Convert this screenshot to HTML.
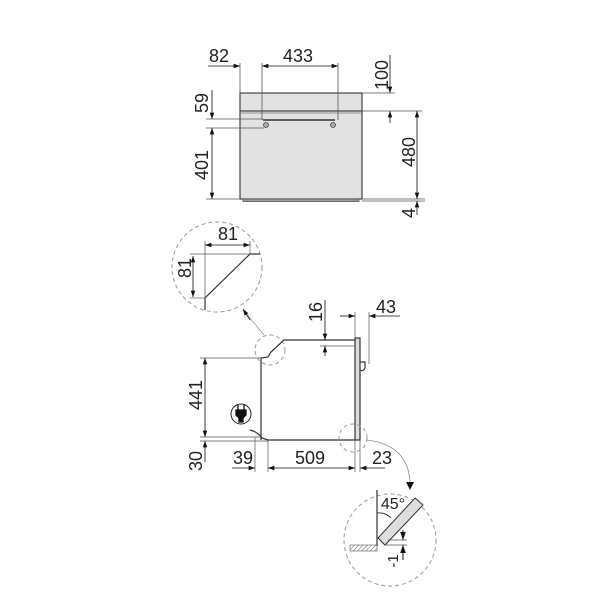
<!DOCTYPE html>
<html><head><style>body{margin:0;background:#fff}svg{display:block}text{font-family:"Liberation Sans",sans-serif;fill:#222}</style></head>
<body>
<svg width="600" height="600" viewBox="0 0 600 600" xmlns="http://www.w3.org/2000/svg">
<defs>
<marker id="a" viewBox="0 0 10 10" refX="10" refY="5" markerWidth="8" markerHeight="8" orient="auto-start-reverse"><path d="M0,1.5L10,5L0,8.5z" fill="#111"/></marker>
<pattern id="h" width="3" height="3" patternUnits="userSpaceOnUse" patternTransform="rotate(45)"><line x1="0" y1="0" x2="0" y2="3" stroke="#555" stroke-width="1"/></pattern>
</defs>
<g stroke="#555" stroke-width="0.8" fill="none">
<rect x="240" y="93" width="122" height="106" fill="#e2e2e2" stroke="#444" stroke-width="1.2"/>
<rect x="243" y="199" width="116" height="2.5" fill="#999" stroke="#555"/>
<line x1="240" y1="111" x2="362" y2="111" stroke="#444" stroke-width="1.2"/>
<line x1="240" y1="113" x2="362" y2="113" stroke="#777"/>
<line x1="263" y1="120" x2="335" y2="120" stroke="#333" stroke-width="1.5"/>
<circle cx="266" cy="125" r="2.5" fill="#aaa" stroke="#444"/>
<circle cx="333" cy="125" r="2.5" fill="#aaa" stroke="#444"/>
<line x1="240" y1="63" x2="240" y2="93"/><line x1="262" y1="63" x2="262" y2="120"/><line x1="338" y1="63" x2="338" y2="120"/>
<line x1="362" y1="93" x2="395" y2="93"/><line x1="362" y1="111" x2="422" y2="111"/><line x1="362" y1="199" x2="425" y2="199"/><line x1="362" y1="201" x2="425" y2="201"/>
<line x1="206" y1="119" x2="263" y2="119"/><line x1="206" y1="128" x2="264" y2="128"/><line x1="206" y1="199" x2="240" y2="199"/>
</g>
<g stroke="#111" stroke-width="0.8" fill="none">
<line x1="208" y1="66" x2="240" y2="66" marker-end="url(#a)"/>
<line x1="262" y1="66" x2="338" y2="66" marker-start="url(#a)" marker-end="url(#a)"/>
<line x1="390" y1="55" x2="390" y2="93" marker-end="url(#a)"/>
<line x1="390" y1="123" x2="390" y2="111" marker-end="url(#a)"/>
<line x1="417" y1="111" x2="417" y2="199" marker-start="url(#a)" marker-end="url(#a)"/>
<line x1="417" y1="215" x2="417" y2="201" marker-end="url(#a)"/>
<line x1="212" y1="90" x2="212" y2="119" marker-end="url(#a)"/>
<line x1="212" y1="128" x2="212" y2="199" marker-start="url(#a)" marker-end="url(#a)"/>
</g>
<g font-size="18" text-anchor="middle">
<text x="219" y="62">82</text><text x="298" y="62">433</text>
<text transform="translate(388,75) rotate(-90)">100</text>
<text transform="translate(415,152) rotate(-90)">480</text>
<text transform="translate(415,213) rotate(-90)">4</text>
<text transform="translate(208,103) rotate(-90)">59</text>
<text transform="translate(208,165) rotate(-90)">401</text>
</g>
<circle cx="217" cy="267" r="45" fill="none" stroke="#999" stroke-dasharray="4,3"/>
<g stroke="#333" stroke-width="1.2" fill="none">
<polyline points="205,310 205,298 250,254 260,254"/>
</g>
<g stroke="#555" stroke-width="0.7" fill="none"><line x1="205" y1="241" x2="205" y2="298"/><line x1="190" y1="254" x2="250" y2="254"/><line x1="250" y1="241" x2="250" y2="254"/><line x1="190" y1="298" x2="205" y2="298"/>
<line x1="264" y1="335" x2="244" y2="311" stroke="#888"/></g>
<g stroke="#111" stroke-width="0.8" fill="none">
<line x1="205" y1="245" x2="250" y2="245" marker-start="url(#a)" marker-end="url(#a)"/>
<line x1="193" y1="256" x2="193" y2="297" marker-start="url(#a)" marker-end="url(#a)"/>
<line x1="250" y1="320" x2="243" y2="309" marker-end="url(#a)"/>
</g>
<g font-size="18" text-anchor="middle">
<text x="228" y="240">81</text>
<text transform="translate(191,268) rotate(-90)">81</text>
</g>
<circle cx="270" cy="350" r="15" fill="none" stroke="#999" stroke-dasharray="4,3"/>
<g stroke="#333" stroke-width="1.2" fill="none">
<polyline points="355,340 284,340 271,352 268,357 261,358 261,440"/>
<line x1="268" y1="440" x2="355" y2="440"/>
<rect x="355" y="338" width="5" height="102" fill="#ddd"/>
<path d="M360,362 L365,362 L365,368 Q363,372 360,370"/>
<path d="M250,430 Q258,432 262,438 L268,440"/>
</g>
<circle cx="241" cy="414" r="10" fill="none" stroke="#222" stroke-width="1"/>
<path d="M236,410h10v5l-3,3v4h-4v-4l-3,-3z M238,405v5 M244,405v5" fill="#111" stroke="#111" stroke-width="1.3"/>
<g stroke="#555" stroke-width="0.7" fill="none">
<line x1="200" y1="358" x2="261" y2="358"/><line x1="200" y1="437" x2="261" y2="437"/><line x1="200" y1="441" x2="268" y2="441"/>
<line x1="255" y1="437" x2="255" y2="472"/><line x1="268" y1="440" x2="268" y2="472"/><line x1="355" y1="440" x2="355" y2="472"/><line x1="360" y1="440" x2="360" y2="472"/>
<line x1="355" y1="312" x2="355" y2="338"/><line x1="369" y1="312" x2="369" y2="364"/>
<line x1="320" y1="346" x2="355" y2="346"/>
</g>
<g stroke="#111" stroke-width="0.8" fill="none">
<line x1="205" y1="358" x2="205" y2="437" marker-start="url(#a)" marker-end="url(#a)"/>
<line x1="205" y1="462" x2="205" y2="441" marker-end="url(#a)"/>
<line x1="232" y1="468" x2="255" y2="468" marker-end="url(#a)"/>
<line x1="268" y1="468" x2="355" y2="468" marker-start="url(#a)" marker-end="url(#a)"/>
<line x1="385" y1="468" x2="360" y2="468" marker-end="url(#a)"/>
<line x1="325" y1="300" x2="325" y2="340" marker-end="url(#a)"/>
<line x1="325" y1="356" x2="325" y2="346" marker-end="url(#a)"/>
<line x1="340" y1="316" x2="355" y2="316" marker-end="url(#a)"/>
<line x1="400" y1="316" x2="369" y2="316" marker-end="url(#a)"/>
</g>
<g font-size="18" text-anchor="middle">
<text transform="translate(202,395) rotate(-90)">441</text>
<text transform="translate(202,461) rotate(-90)">30</text>
<text x="243" y="464">39</text><text x="310" y="464">509</text><text x="382" y="464">23</text>
<text transform="translate(322,312) rotate(-90)">16</text>
<text x="386" y="313">43</text>
</g>
<circle cx="353" cy="438" r="14" fill="none" stroke="#999" stroke-dasharray="4,3"/>
<path d="M367,440 Q408,445 410,482" fill="none" stroke="#888" stroke-width="0.8"/>
<path d="M406,482 L414,482 L410,490z" fill="#111"/>
<circle cx="390" cy="540" r="46" fill="none" stroke="#999" stroke-dasharray="4,3"/>
<rect x="350" y="545" width="27" height="6" fill="url(#h)" stroke="#555" stroke-width="0.6"/>
<line x1="377" y1="490" x2="377" y2="546" stroke="#333" stroke-width="1.2"/>
<polygon points="378,538 415,498 423,505 385,545" fill="#ddd" stroke="#333" stroke-width="1"/>
<path d="M377,513 Q385,512 391,518" fill="none" stroke="#111" stroke-width="0.8"/>
<line x1="385" y1="545" x2="407" y2="545" stroke="#555" stroke-width="0.7"/>
<line x1="388" y1="540" x2="407" y2="540" stroke="#555" stroke-width="0.7"/>
<line x1="403" y1="530" x2="403" y2="540" stroke="#111" marker-end="url(#a)"/>
<line x1="403" y1="560" x2="403" y2="545" stroke="#111" marker-end="url(#a)"/>
<text x="393" y="509" font-size="16" text-anchor="middle">45°</text>
<text transform="translate(398,561) rotate(-90)" font-size="15" text-anchor="middle">-1</text>
</svg>
</body></html>
